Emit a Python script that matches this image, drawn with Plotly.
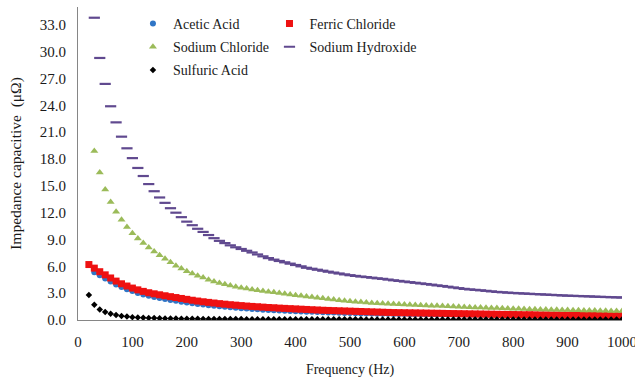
import plotly.graph_objects as go

# Frequencies (Hz), 10 Hz steps
freq_from20 = list(range(20, 1001, 10))
freq_from30 = freq_from20[1:]

acetic_acid = [
    5.35, 5.00, 4.65, 4.30, 3.97, 3.70, 3.45, 3.23, 3.03, 2.85,
    2.70, 2.57, 2.46, 2.35, 2.25, 2.15, 2.05, 1.96, 1.87, 1.79,
    1.72, 1.65, 1.59, 1.53, 1.47, 1.42, 1.37, 1.32, 1.28, 1.24,
    1.20, 1.16, 1.13, 1.10, 1.07, 1.04, 1.01, 0.98, 0.95, 0.93,
    0.91, 0.89, 0.87, 0.85, 0.83, 0.81, 0.79, 0.77, 0.75, 0.74,
    0.73, 0.72, 0.71, 0.70, 0.69, 0.68, 0.67, 0.66, 0.65, 0.64,
    0.63, 0.62, 0.61, 0.60, 0.60, 0.59, 0.59, 0.58, 0.58, 0.57,
    0.57, 0.56, 0.56, 0.55, 0.55, 0.54, 0.54, 0.53, 0.52, 0.51,
    0.51, 0.50, 0.50, 0.49, 0.49, 0.48, 0.48, 0.47, 0.47, 0.46,
    0.46, 0.45, 0.45, 0.44, 0.44, 0.43, 0.43, 0.42,
]

ferric_chloride = [
    6.20, 5.80, 5.40, 5.05, 4.70, 4.35, 4.05, 3.80, 3.57, 3.37,
    3.20, 3.05, 2.93, 2.82, 2.71, 2.61, 2.51, 2.41, 2.31, 2.21,
    2.12, 2.04, 1.97, 1.90, 1.83, 1.77, 1.71, 1.66, 1.61, 1.56,
    1.52, 1.48, 1.44, 1.40, 1.37, 1.33, 1.30, 1.27, 1.24, 1.21,
    1.18, 1.15, 1.12, 1.09, 1.07, 1.05, 1.03, 1.01, 0.99, 0.97,
    0.95, 0.93, 0.91, 0.89, 0.87, 0.85, 0.83, 0.82, 0.81, 0.80,
    0.79, 0.78, 0.77, 0.76, 0.75, 0.74, 0.73, 0.72, 0.71, 0.70,
    0.69, 0.68, 0.67, 0.66, 0.65, 0.64, 0.63, 0.62, 0.61, 0.60,
    0.59, 0.59, 0.58, 0.57, 0.57, 0.56, 0.56, 0.55, 0.55, 0.54,
    0.54, 0.53, 0.53, 0.52, 0.52, 0.51, 0.51, 0.50, 0.50,
]

sodium_chloride = [
    18.9, 16.5, 14.6, 13.2, 12.1, 11.2, 10.4, 9.7, 9.1, 8.6,
    8.1, 7.65, 7.25, 6.85, 6.45, 6.07, 5.75, 5.45, 5.2, 4.95,
    4.75, 4.5, 4.3, 4.15, 4.0, 3.85, 3.73, 3.61, 3.51, 3.42,
    3.33, 3.25, 3.17, 3.1, 3.02, 2.94, 2.86, 2.78, 2.71, 2.64,
    2.57, 2.5, 2.43, 2.36, 2.29, 2.22, 2.16, 2.1, 2.05, 2.0,
    1.95, 1.91, 1.87, 1.84, 1.81, 1.78, 1.76, 1.74, 1.71, 1.68,
    1.66, 1.63, 1.6, 1.58, 1.56, 1.53, 1.5, 1.48, 1.45, 1.43,
    1.41, 1.39, 1.37, 1.35, 1.33, 1.31, 1.29, 1.27, 1.25, 1.23,
    1.21, 1.2, 1.18, 1.17, 1.15, 1.14, 1.12, 1.11, 1.1, 1.08,
    1.07, 1.06, 1.05, 1.04, 1.03, 1.02, 1.01, 1.0,
]

sodium_hydroxide = [
    33.8, 29.3, 26.4, 23.9, 22.1, 20.5, 19.2, 18.1, 17.0, 16.1,
    15.2, 14.4, 13.7, 13.1, 12.5, 12.0, 11.5, 11.0, 10.6, 10.2,
    9.85, 9.5, 9.15, 8.85, 8.6, 8.35, 8.13, 7.94, 7.74, 7.55,
    7.33, 7.12, 6.92, 6.75, 6.6, 6.45, 6.3, 6.15, 6.0, 5.84,
    5.73, 5.62, 5.51, 5.4, 5.3, 5.2, 5.1, 5.01, 4.93, 4.86,
    4.8, 4.73, 4.66, 4.6, 4.52, 4.44, 4.37, 4.3, 4.23, 4.16,
    4.09, 4.02, 3.95, 3.87, 3.8, 3.72, 3.64, 3.56, 3.48, 3.42,
    3.37, 3.32, 3.26, 3.2, 3.14, 3.1, 3.06, 3.02, 2.99, 2.96,
    2.93, 2.9, 2.87, 2.84, 2.81, 2.78, 2.75, 2.72, 2.7, 2.68,
    2.66, 2.64, 2.61, 2.59, 2.57, 2.55, 2.53, 2.51,
]

sulfuric_acid = [
    2.80, 1.70, 1.17, 0.90, 0.71, 0.57, 0.46, 0.38, 0.32, 0.28,
    0.25, 0.23, 0.21, 0.19, 0.18, 0.17, 0.16, 0.15, 0.14, 0.135,
    0.13, 0.125, 0.12, 0.115, 0.11, 0.107, 0.104, 0.10, 0.098, 0.096,
    0.094, 0.092, 0.09, 0.088, 0.086, 0.085, 0.084, 0.083, 0.082, 0.081,
    0.08, 0.079, 0.078, 0.077, 0.076, 0.075, 0.074, 0.073, 0.072, 0.071,
    0.07, 0.069, 0.068, 0.068, 0.067, 0.066, 0.066, 0.065, 0.064, 0.064,
    0.063, 0.062, 0.062, 0.061, 0.061, 0.06, 0.06, 0.059, 0.059, 0.058,
    0.058, 0.057, 0.057, 0.056, 0.056, 0.055, 0.055, 0.054, 0.054, 0.054,
    0.053, 0.053, 0.053, 0.052, 0.052, 0.052, 0.051, 0.051, 0.051, 0.05,
    0.05, 0.05, 0.05, 0.049, 0.049, 0.049, 0.049, 0.048, 0.048,
]

y_ticks = [0, 3, 6, 9, 12, 15, 18, 21, 24, 27, 30, 33]
y_tick_text = ["0.0", "3.0", "6.0", "9.0", "12.0", "15.0", "18.0", "21.0", "24.0", "27.0", "30.0", "33.0"]
x_ticks = [0, 100, 200, 300, 400, 500, 600, 700, 800, 900, 1000]

FONT = "Liberation Serif, Times New Roman, serif"
TXT = "#1a1a1a"

fig = go.Figure()
fig.add_trace(go.Scatter(
    x=freq_from30, y=acetic_acid, mode="markers", name="Acetic Acid",
    marker=dict(symbol="circle", size=6, color="#2F75C6"),
    legend="legend", legendgroup="a"))
fig.add_trace(go.Scatter(
    x=freq_from20, y=ferric_chloride, mode="markers", name="Ferric Chloride",
    marker=dict(symbol="square", size=7, color="#EE1111"),
    legend="legend2", legendgroup="b"))
fig.add_trace(go.Scatter(
    x=freq_from30, y=sodium_chloride, mode="markers", name="Sodium Chloride",
    marker=dict(symbol="triangle-up", size=7, color="#9BBB59"),
    legend="legend", legendgroup="c"))
fig.add_trace(go.Scatter(
    x=freq_from30, y=sodium_hydroxide, mode="markers", name="Sodium Hydroxide",
    marker=dict(symbol="line-ew", size=8, color="#60498F",
                line=dict(width=2.2, color="#60498F")),
    legend="legend2", legendgroup="d"))
fig.add_trace(go.Scatter(
    x=freq_from20, y=sulfuric_acid, mode="markers", name="Sulfuric Acid",
    marker=dict(symbol="diamond", size=5, color="#000000"),
    legend="legend", legendgroup="e"))

legend_common = dict(
    font=dict(family=FONT, size=14, color=TXT),
    bgcolor="rgba(0,0,0,0)", borderwidth=0,
    tracegroupgap=2, itemsizing="trace",
    xanchor="left", yanchor="top", orientation="v",
)

fig.update_layout(
    width=635, height=378,
    margin=dict(l=77.5, r=13, t=6.5, b=57.5),
    paper_bgcolor="white", plot_bgcolor="white",
    font=dict(family=FONT, size=14, color=TXT),
    showlegend=True,
    legend=dict(x=0.101, y=0.997, **legend_common),
    legend2=dict(x=0.352, y=0.997, **legend_common),
    xaxis=dict(
        range=[0, 1000], tickvals=x_ticks, showgrid=False, zeroline=False,
        showline=True, linecolor="#868686", linewidth=1, ticks="",
        automargin=False,
        ticklabelstandoff=8, ticklabeloverflow="allow",
        tickfont=dict(family=FONT, size=15, color=TXT),
        title=dict(text="Frequency (Hz)", font=dict(family=FONT, size=14, color=TXT), standoff=15),
    ),
    yaxis=dict(
        range=[0, 35], tickvals=y_ticks, ticktext=y_tick_text, showgrid=False, zeroline=False,
        showline=True, linecolor="#868686", linewidth=1, ticks="",
        automargin=False,
        ticklabelstandoff=8,
        tickfont=dict(family=FONT, size=15, color=TXT),
        title=dict(text="Impedance capacitive  (\u03bc\u03a9)", font=dict(family=FONT, size=15.5, color=TXT), standoff=14),
    ),
)

fig.write_html("out.html", config={"displayModeBar": False},
               post_script="document.body.style.margin='0';")
